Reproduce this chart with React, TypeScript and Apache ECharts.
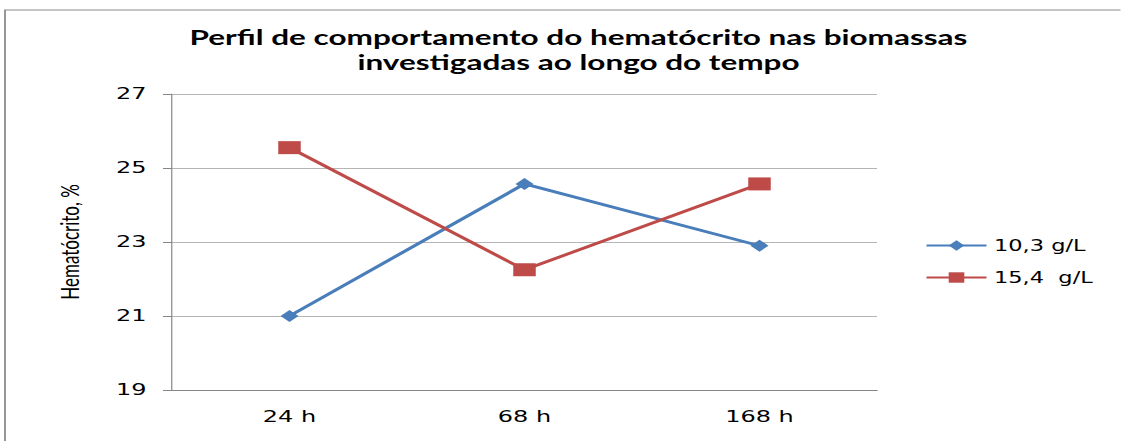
import React, { useEffect, useRef } from "react";
import * as echarts from "echarts";

const categories = ["24 h", "68 h", "168 h"];
const series103 = [21.0, 24.57, 22.9];
const series154 = [25.55, 22.25, 24.57];
const seriesNames = ["10,3 g/L", "15,4  g/L"];
const yTicks = { min: 19, max: 27, interval: 2 };

// The reference image is stretched horizontally; reproduce by rendering
// on a narrower canvas and stretching it with CSS.
const STRETCH = 1.5;
const PAGE_W = 1121;
const PAGE_H = 441;
const sx = (v: number) => v / STRETCH;

export default function App() {
  const ref = useRef<HTMLDivElement>(null);
  useEffect(() => {
    if (!ref.current) return;
    const chart = echarts.init(ref.current, undefined, {
      renderer: "svg",
      width: PAGE_W / STRETCH,
      height: PAGE_H,
    });
    chart.setOption({
      animation: false,
      backgroundColor: "#ffffff",
      title: {
        text: "Perfil de comportamento do hematócrito nas biomassas\ninvestigadas ao longo do tempo",
        left: sx(571),
        top: 20,
        textAlign: "center",
        textStyle: {
          fontFamily: "Lato",
          fontWeight: "bold",
          fontSize: 21,
          lineHeight: 25,
          color: "#000",
        },
      },
      graphic: [
        {
          type: "rect",
          shape: { x: sx(5), y: 10, width: 800, height: 460 },
          style: { fill: "none", stroke: "#8c8c8c", lineWidth: 1.2 },
          silent: true,
        },
      ],
      legend: {
        orient: "vertical",
        left: sx(925),
        top: 238,
        padding: 0,
        itemWidth: sx(60),
        itemHeight: 13,
        itemGap: 17,
        textStyle: { fontFamily: "DejaVu Sans", fontSize: 15, color: "#000" },
        data: seriesNames,
      },
      grid: { left: sx(172), top: 94, width: sx(705), height: 296 },
      xAxis: {
        type: "category",
        data: categories,
        boundaryGap: true,
        axisLine: { lineStyle: { color: "#868686", width: 1 } },
        axisTick: { show: false },
        axisLabel: { margin: 19, fontFamily: "DejaVu Sans", fontSize: 16, color: "#000" },
      },
      yAxis: {
        type: "value",
        min: yTicks.min,
        max: yTicks.max,
        interval: yTicks.interval,
        name: "Hematócrito, %",
        nameLocation: "middle",
        nameGap: 60,
        nameRotate: 90,
        nameTextStyle: {
          fontFamily: "Lato",
          fontSize: 17,
          color: "#000",
        },
        axisLine: { show: true, lineStyle: { color: "#868686", width: 0.8 } },
        axisTick: { show: true, length: 6, lineStyle: { color: "#868686", width: 1 } },
        axisLabel: { margin: 17, fontFamily: "DejaVu Sans", fontSize: 16, color: "#000" },
        splitLine: { lineStyle: { color: "#b5b5b5", width: 1 } },
      },
      series: [
        {
          name: seriesNames[0],
          type: "line",
          data: series103,
          symbol: "diamond",
          symbolSize: 12,
          lineStyle: { color: "#4a7ebb", width: 2.8 },
          itemStyle: { color: "#4a7ebb" },
        },
        {
          name: seriesNames[1],
          type: "line",
          data: series154,
          symbol: "rect",
          symbolSize: [15, 13],
          lineStyle: { color: "#be4b48", width: 2.8 },
          itemStyle: { color: "#be4b48" },
        },
      ],
    });
    return () => chart.dispose();
  }, []);
  return (
    <div
      style={{
        position: "absolute",
        left: 0,
        top: 0,
        width: PAGE_W,
        height: PAGE_H,
        overflow: "hidden",
        background: "#fff",
      }}
    >
      <div
        ref={ref}
        style={{
          width: PAGE_W / STRETCH,
          height: PAGE_H,
          transform: `scaleX(${STRETCH})`,
          transformOrigin: "0 0",
        }}
      />
    </div>
  );
}
